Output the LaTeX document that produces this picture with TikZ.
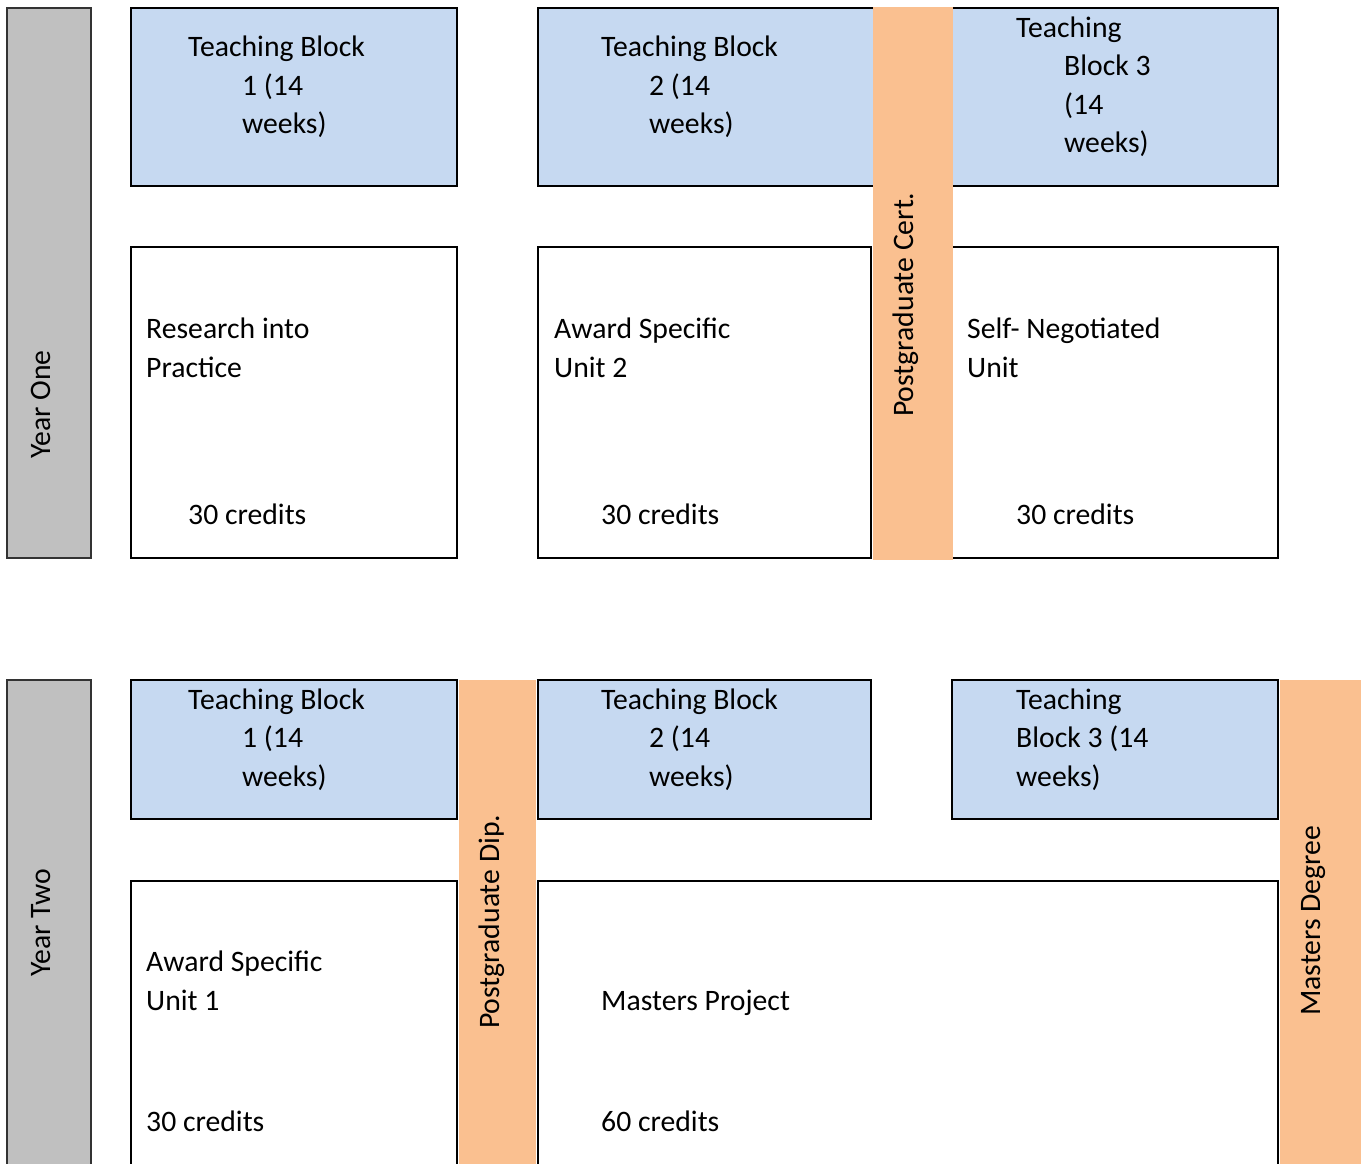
\documentclass[tikz,border=0pt]{standalone}
\usepackage{fontspec}
\setmainfont{Carlito}
\definecolor{tbblue}{HTML}{C6D9F1}
\definecolor{pgorange}{HTML}{FAC090}
\definecolor{yeargrey}{HTML}{C0C0C0}
\begin{document}
\begin{tikzpicture}[x=1pt,y=-1pt,
  frame/.style={draw=black, line width=2.8pt, inner sep=0pt, outer sep=0pt, anchor=north west},
  tblock/.style={frame, fill=tbblue},
  unitbox/.style={frame, fill=white},
  yearbar/.style={draw=black!80, line width=2pt, fill=yeargrey, inner sep=0pt, outer sep=0pt, anchor=north west},
  awardbar/.style={fill=pgorange, draw=none, inner sep=0pt, outer sep=0pt, anchor=north west},
  txt/.style={font=\fontsize{29.7}{35}\selectfont, inner sep=0pt, anchor=base west},
  vtxt/.style={txt, rotate=90}]
\useasboundingbox (0,0) rectangle (1371,1163);
\clip (0,0) rectangle (1371,1163);

% ---------- Year One ----------
\node[yearbar, minimum width=84pt, minimum height=550pt] (y1) at (7,8) {};
\node[tblock, minimum width=326pt, minimum height=178pt] (tb11) at (131,8) {};
\node[tblock, minimum width=362pt, minimum height=178pt] (tb12) at (538,8) {};
\node[tblock, minimum width=353pt, minimum height=178pt] (tb13) at (925,8) {};
\node[unitbox, minimum width=326pt, minimum height=311pt] (rip) at (131,247) {};
\node[unitbox, minimum width=333pt, minimum height=311pt] (asu2) at (538,247) {};
\node[unitbox, minimum width=353pt, minimum height=311pt] (snu) at (925,247) {};
\node[awardbar, minimum width=80pt, minimum height=553pt] (pgc) at (872.5,7) {};

\node[vtxt] (ty1) at (50,459) {Year One};
\node[vtxt] (tpgc) at (913,417) {Postgraduate Cert.};

\node[txt] (a1) at (188,56) {Teaching Block};
\node[txt] (a2) at (242,95) {1 (14};
\node[txt] (a3) at (242,133) {weeks)};
\node[txt] (b1) at (601,56) {Teaching Block};
\node[txt] (b2) at (649,95) {2 (14};
\node[txt] (b3) at (649,133) {weeks)};
\node[txt] (c1) at (1016,37) {Teaching};
\node[txt] (c2) at (1064,75) {Block 3};
\node[txt] (c3) at (1064,114) {(14};
\node[txt] (c4) at (1064,152) {weeks)};
\node[txt] (d1) at (146,338) {Research into};
\node[txt] (d2) at (146,377) {Practice};
\node[txt] (d3) at (188,524) {30 credits};
\node[txt] (e1) at (554,338) {Award Specific};
\node[txt] (e2) at (554,377) {Unit 2};
\node[txt] (e3) at (601,524) {30 credits};
\node[txt] (f1) at (967,338) {Self- Negotiated};
\node[txt] (f2) at (967,377) {Unit};
\node[txt] (f3) at (1016,524) {30 credits};

% ---------- Year Two ----------
\node[yearbar, minimum width=84pt, minimum height=520pt] (y2) at (7,680) {};
\node[tblock, minimum width=326pt, minimum height=139pt] (tb21) at (131,680) {};
\node[tblock, minimum width=333pt, minimum height=139pt] (tb22) at (538,680) {};
\node[tblock, minimum width=326pt, minimum height=139pt] (tb23) at (952,680) {};
\node[unitbox, minimum width=326pt, minimum height=320pt] (asu1) at (131,881) {};
\node[unitbox, minimum width=740pt, minimum height=320pt] (mp) at (538,881) {};
\node[awardbar, minimum width=77pt, minimum height=500pt] (pgd) at (459,680) {};
\node[awardbar, minimum width=81pt, minimum height=500pt] (md) at (1280,680) {};

\node[vtxt] (ty2) at (50,977) {Year Two};
\node[vtxt] (tpgd) at (499,1029) {Postgraduate Dip.};
\node[vtxt] (tmd) at (1320,1016) {Masters Degree};

\node[txt] (g1) at (188,709) {Teaching Block};
\node[txt] (g2) at (242,747) {1 (14};
\node[txt] (g3) at (242,786) {weeks)};
\node[txt] (h1) at (601,709) {Teaching Block};
\node[txt] (h2) at (649,747) {2 (14};
\node[txt] (h3) at (649,786) {weeks)};
\node[txt] (i1) at (1016,709) {Teaching};
\node[txt] (i2) at (1016,747) {Block 3 (14};
\node[txt] (i3) at (1016,786) {weeks)};
\node[txt] (j1) at (146,971) {Award Specific};
\node[txt] (j2) at (146,1010) {Unit 1};
\node[txt] (j3) at (146,1131) {30 credits};
\node[txt] (k1) at (601,1010) {Masters Project};
\node[txt] (k2) at (601,1131) {60 credits};
\end{tikzpicture}
\end{document}
